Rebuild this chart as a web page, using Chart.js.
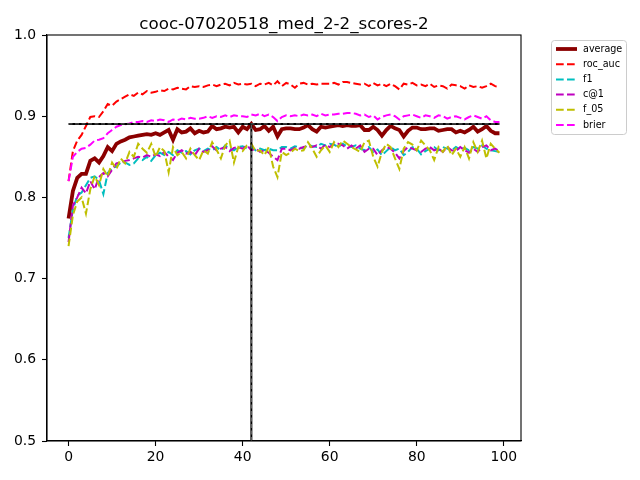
<!DOCTYPE html>
<html>
<head>
<meta charset="utf-8">
<script src="https://cdn.jsdelivr.net/npm/chart.js@4.4.1/dist/chart.umd.min.js"></script>
<style>
  html, body { margin: 0; padding: 0; background: #fff; }
  canvas { display: block; }
</style>
</head>
<body>
<canvas id="chart" width="640" height="480"></canvas>
<script>
// ── Data ───────────────────────────────────────────────
const TITLE = 'cooc-07020518_med_2-2_scores-2';
const epochs = Array.from({ length: 100 }, (_, i) => i);

const average = [
  0.774, 0.808, 0.824, 0.829, 0.829, 0.845, 0.848, 0.843, 0.851, 0.862,
  0.857, 0.866, 0.869, 0.871, 0.874, 0.875, 0.876, 0.877, 0.878, 0.877,
  0.879, 0.877, 0.880, 0.883, 0.871, 0.884, 0.880, 0.881, 0.885, 0.879,
  0.882, 0.880, 0.881, 0.888, 0.884, 0.885, 0.887, 0.886, 0.887, 0.880,
  0.887, 0.884, 0.8905, 0.883, 0.884, 0.888, 0.882, 0.887, 0.875, 0.884,
  0.885, 0.885, 0.884, 0.884, 0.886, 0.889, 0.884, 0.881, 0.887, 0.886,
  0.887, 0.888, 0.889, 0.888, 0.889, 0.888, 0.888, 0.889, 0.883, 0.883,
  0.887, 0.883, 0.876, 0.883, 0.888, 0.885, 0.883, 0.875, 0.882, 0.886,
  0.886, 0.884, 0.884, 0.885, 0.885, 0.882, 0.883, 0.884, 0.884, 0.880,
  0.882, 0.880, 0.883, 0.887, 0.881, 0.884, 0.888, 0.882, 0.879, 0.879,
];
const rocAuc = [
  0.820, 0.857, 0.870, 0.877, 0.888, 0.899, 0.900, 0.899, 0.906, 0.915,
  0.913, 0.918, 0.921, 0.924, 0.927, 0.925, 0.929, 0.927, 0.931, 0.929,
  0.930, 0.932, 0.931, 0.934, 0.933, 0.935, 0.934, 0.933, 0.937, 0.936,
  0.937, 0.936, 0.938, 0.939, 0.937, 0.939, 0.940, 0.938, 0.941, 0.939,
  0.940, 0.939, 0.940, 0.937, 0.940, 0.939, 0.941, 0.938, 0.943, 0.937,
  0.941, 0.939, 0.935, 0.940, 0.941, 0.939, 0.940, 0.939, 0.940, 0.940,
  0.940, 0.941, 0.939, 0.942, 0.942, 0.941, 0.940, 0.939, 0.940, 0.937,
  0.941, 0.938, 0.940, 0.937, 0.940, 0.937, 0.933, 0.940, 0.939, 0.941,
  0.938, 0.939, 0.937, 0.940, 0.936, 0.938, 0.937, 0.934, 0.939, 0.938,
  0.937, 0.934, 0.938, 0.936, 0.937, 0.935, 0.937, 0.940, 0.937, 0.936,
];
const f1 = [
  0.750, 0.785, 0.802, 0.806, 0.815, 0.824, 0.826, 0.821, 0.804, 0.830,
  0.836, 0.838, 0.843, 0.843, 0.840, 0.842, 0.848, 0.846, 0.850, 0.845,
  0.852, 0.855, 0.852, 0.856, 0.852, 0.858, 0.855, 0.857, 0.853, 0.858,
  0.860, 0.857, 0.860, 0.858, 0.862, 0.858, 0.864, 0.860, 0.858, 0.862,
  0.863, 0.860, 0.862, 0.858, 0.860, 0.858, 0.860, 0.858, 0.858, 0.862,
  0.862, 0.860, 0.863, 0.862, 0.860, 0.865, 0.863, 0.862, 0.866, 0.864,
  0.866, 0.865, 0.862, 0.866, 0.863, 0.862, 0.864, 0.860, 0.858, 0.862,
  0.856, 0.859, 0.852, 0.857, 0.862, 0.858, 0.860, 0.852, 0.856, 0.862,
  0.860, 0.853, 0.857, 0.860, 0.862, 0.858, 0.862, 0.860, 0.858, 0.862,
  0.859, 0.861, 0.858, 0.862, 0.860, 0.864, 0.860, 0.858, 0.857, 0.856,
];
const cAt1 = [
  0.745, 0.790, 0.800, 0.812, 0.805, 0.820, 0.810, 0.825, 0.830, 0.826,
  0.834, 0.842, 0.843, 0.845, 0.846, 0.848, 0.850, 0.849, 0.852, 0.850,
  0.853, 0.851, 0.856, 0.850, 0.846, 0.855, 0.858, 0.854, 0.856, 0.852,
  0.860, 0.856, 0.858, 0.863, 0.858, 0.860, 0.862, 0.857, 0.861, 0.862,
  0.860, 0.864, 0.858, 0.860, 0.856, 0.858, 0.855, 0.850, 0.846, 0.860,
  0.860, 0.858, 0.861, 0.860, 0.862, 0.863, 0.862, 0.864, 0.860, 0.865,
  0.862, 0.866, 0.866, 0.864, 0.860, 0.864, 0.860, 0.864, 0.856, 0.860,
  0.860, 0.852, 0.858, 0.862, 0.860, 0.855, 0.848, 0.857, 0.862, 0.860,
  0.858, 0.856, 0.860, 0.862, 0.858, 0.860, 0.856, 0.862, 0.858, 0.857,
  0.862, 0.858, 0.855, 0.860, 0.856, 0.862, 0.864, 0.858, 0.860, 0.857,
];
const f05 = [
  0.740, 0.778, 0.795, 0.800, 0.780, 0.810, 0.826, 0.815, 0.835, 0.826,
  0.843, 0.835, 0.848, 0.842, 0.856, 0.850, 0.866, 0.860, 0.855, 0.866,
  0.850, 0.862, 0.857, 0.831, 0.862, 0.852, 0.856, 0.848, 0.860, 0.852,
  0.846, 0.858, 0.854, 0.868, 0.859, 0.848, 0.864, 0.870, 0.843, 0.862,
  0.857, 0.864, 0.866, 0.857, 0.858, 0.852, 0.862, 0.838, 0.825, 0.856,
  0.852, 0.855, 0.860, 0.857, 0.858, 0.868, 0.860, 0.850, 0.858, 0.864,
  0.856, 0.868, 0.862, 0.870, 0.866, 0.862, 0.859, 0.856, 0.868, 0.870,
  0.850, 0.838, 0.856, 0.866, 0.862, 0.848, 0.835, 0.860, 0.868, 0.865,
  0.858, 0.870, 0.864, 0.858, 0.846, 0.862, 0.856, 0.864, 0.852, 0.860,
  0.850, 0.862, 0.848, 0.868, 0.856, 0.870, 0.848, 0.866, 0.860, 0.855,
];
const brier = [
  0.820, 0.850, 0.856, 0.860, 0.861, 0.865, 0.870, 0.871, 0.873, 0.879,
  0.883, 0.887, 0.889, 0.890, 0.891, 0.893, 0.893, 0.894, 0.893, 0.895,
  0.894, 0.896, 0.895, 0.893, 0.896, 0.895, 0.897, 0.896, 0.898, 0.897,
  0.897, 0.898, 0.900, 0.898, 0.900, 0.899, 0.901, 0.899, 0.901, 0.900,
  0.900, 0.899, 0.902, 0.901, 0.903, 0.900, 0.902, 0.899, 0.894, 0.899,
  0.901, 0.900, 0.901, 0.900, 0.902, 0.901, 0.902, 0.900, 0.903, 0.901,
  0.902, 0.902, 0.903, 0.903, 0.904, 0.904, 0.903, 0.901, 0.902, 0.899,
  0.901, 0.896, 0.899, 0.901, 0.902, 0.900, 0.896, 0.900, 0.901, 0.902,
  0.900, 0.898, 0.901, 0.900, 0.898, 0.901, 0.900, 0.897, 0.899, 0.900,
  0.898, 0.896, 0.899, 0.901, 0.899, 0.897, 0.900, 0.895, 0.893, 0.893,
];

const xTicks = [0, 20, 40, 60, 80, 100];
const yTicks = [0.5, 0.6, 0.7, 0.8, 0.9, 1.0];

// best epoch of the average score -> reference lines
const bestScore = Math.max(...average);
const bestEpoch = epochs[average.indexOf(bestScore)];

// ── Series styles (matplotlib look) ────────────────────
const DASH = [7.7, 3.3];
const SERIES = [
  { label: 'average', values: average, color: '#8b0000', width: 3.8, dash: [] },
  { label: 'roc_auc', values: rocAuc,  color: '#ff0000', width: 2,   dash: DASH },
  { label: 'f1',      values: f1,      color: '#00bfbf', width: 2,   dash: DASH },
  { label: 'c@1',     values: cAt1,    color: '#bf00bf', width: 2,   dash: DASH },
  { label: 'f_05',    values: f05,     color: '#bfbf00', width: 2,   dash: DASH },
  { label: 'brier',   values: brier,   color: '#ff00ff', width: 2,   dash: DASH },
];

const FONT = 'DejaVu Sans';

// ── Plugins ────────────────────────────────────────────
const _framePlugin = {
  id: 'frame',
  afterDraw(chart) {
    const { ctx, chartArea: a } = chart;
    ctx.save();
    ctx.strokeStyle = '#000';
    ctx.lineWidth = 1.1;
    ctx.strokeRect(a.left, a.top, a.right - a.left, a.bottom - a.top);
    // title
    ctx.fillStyle = '#000';
    ctx.font = `16.7px "${FONT}"`;
    ctx.textAlign = 'center';
    ctx.textBaseline = 'alphabetic';
    ctx.fillText(TITLE, (a.left + a.right) / 2, a.top - 6);
    ctx.restore();
  },
};

const _legendPlugin = {
  id: 'mplLegend',
  afterDraw(chart) {
    const { ctx } = chart;
    const x0 = 551, y0 = 40, w = 75, h = 94, row = 15.2;
    ctx.save();
    ctx.beginPath();
    ctx.roundRect(x0 + 0.5, y0 + 0.5, w, h, 3);
    ctx.fillStyle = 'rgba(255,255,255,0.8)';
    ctx.fill();
    ctx.strokeStyle = '#cccccc';
    ctx.lineWidth = 1;
    ctx.stroke();
    ctx.font = `9.6px "${FONT}"`;
    ctx.textBaseline = 'middle';
    ctx.textAlign = 'left';
    SERIES.forEach((s, i) => {
      const y = y0 + 9 + i * row;
      ctx.beginPath();
      ctx.setLineDash(s.dash);
      ctx.strokeStyle = s.color;
      ctx.lineWidth = s.width;
      ctx.moveTo(556, y);
      ctx.lineTo(577, y);
      ctx.stroke();
      ctx.setLineDash([]);
      ctx.fillStyle = '#000';
      ctx.fillText(s.label, 583, y);
    });
    ctx.restore();
  },
};

// ── Chart ──────────────────────────────────────────────
const _toXY = vals => epochs.map((e, i) => ({ x: e, y: vals[i] }));
const nPlots = SERIES.length + 2;

const datasets = SERIES.map((s, k) => ({
  label: s.label,
  data: _toXY(s.values),
  borderColor: s.color,
  borderWidth: s.width,
  borderDash: s.dash,
  pointRadius: 0,
  tension: 0,
  order: nPlots - k,
}));

// horizontal line at the best average score, vertical line at its epoch
const hLine = [epochs[0], epochs[epochs.length - 1]].map(x => ({ x, y: bestScore }));
const vLine = [yTicks[0], bestScore].map(y => ({ x: bestEpoch, y }));
[hLine, vLine].forEach((pts, j) => {
  datasets.push({
    label: 'ref' + j,
    data: pts,
    borderColor: '#000',
    borderWidth: 2,
    pointRadius: 0,
    order: 1,
  });
  datasets.push({
    label: 'refdash' + j,
    data: pts,
    borderColor: 'rgba(150,150,150,0.9)',
    borderWidth: 0.8,
    borderDash: [4, 2.5],
    pointRadius: 0,
    order: 0,
  });
});

const _TICK = { color: '#000', font: { family: FONT, size: 13.9 }, autoSkip: false, maxRotation: 0 };
const _GRID = { display: true, drawOnChartArea: false, tickLength: 5, tickColor: '#000', tickWidth: 1.1 };

new Chart(document.getElementById('chart'), {
  type: 'line',
  data: { datasets },
  options: {
    responsive: false,
    devicePixelRatio: 1,
    animation: false,
    parsing: true,
    layout: { padding: { top: 35, right: 119, left: 0, bottom: 0 } },
    scales: {
      x: {
        type: 'linear',
        min: -4.95,
        max: 103.95,
        afterBuildTicks: s => { s.ticks = xTicks.map(value => ({ value })); },
        afterFit: s => { s.height = 39; },
        ticks: { ..._TICK, padding: 3, callback: v => String(v) },
        grid: _GRID,
        border: { display: true, color: '#000', width: 1.1 },
      },
      y: {
        type: 'linear',
        min: 0.5,
        max: 1.0,
        afterBuildTicks: s => { s.ticks = yTicks.map(value => ({ value })); },
        afterFit: s => { s.width = 47; },
        ticks: { ..._TICK, padding: 6, callback: v => v.toFixed(1) },
        grid: _GRID,
        border: { display: true, color: '#000', width: 1.1 },
      },
    },
    plugins: {
      legend: { display: false },
      tooltip: { enabled: false },
      title: { display: false },
    },
  },
  plugins: [_framePlugin, _legendPlugin],
});
</script>
</body>
</html>
